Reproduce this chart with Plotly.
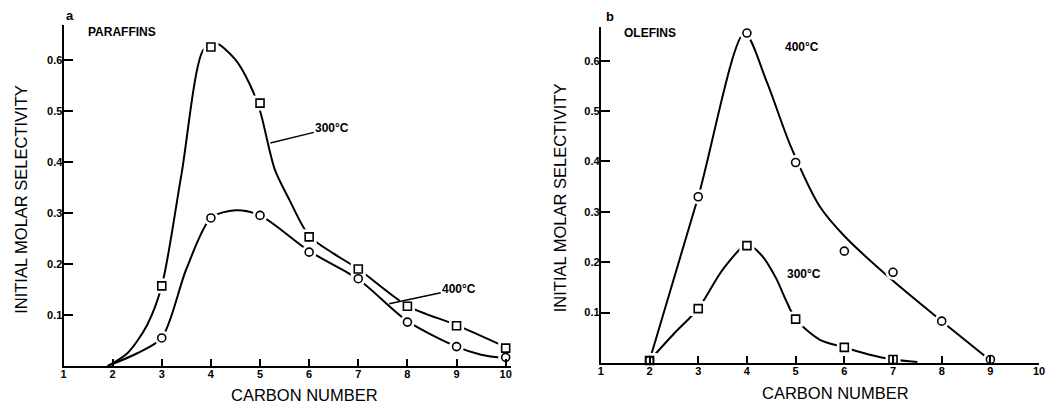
import plotly.graph_objects as go

# ---------------- data ----------------
carbon_par = [3, 4, 5, 6, 7, 8, 9, 10]
par_300 = [0.157, 0.625, 0.515, 0.253, 0.19, 0.117, 0.079, 0.035]
par_400 = [0.055, 0.29, 0.295, 0.223, 0.171, 0.086, 0.038, 0.017]

# hand-drawn smooth curves
par_300_curve_x = [1.9, 2.3, 2.7, 3, 3.4, 3.85, 4.1, 4.5, 4.8, 5, 5.3, 5.6, 6, 6.5, 7, 8, 9, 10]
par_300_curve_y = [0, 0.025, 0.08, 0.157, 0.375, 0.62, 0.632, 0.6, 0.55, 0.5, 0.385, 0.325, 0.255, 0.22, 0.19, 0.118, 0.08, 0.037]
par_400_curve_x = [1.9, 2.5, 3, 3.5, 4, 4.5, 5, 6, 7, 8, 9, 9.5, 10]
par_400_curve_y = [0, 0.025, 0.055, 0.19, 0.29, 0.305, 0.295, 0.225, 0.17, 0.088, 0.038, 0.022, 0.015]

carbon_ole_400 = [2, 3, 4, 5, 6, 7, 8, 9]
ole_400 = [0.005, 0.33, 0.655, 0.398, 0.222, 0.18, 0.083, 0.007]
carbon_ole_300 = [2, 3, 4, 5, 6, 7]
ole_300 = [0.005, 0.108, 0.233, 0.087, 0.031, 0.007]

ole_400_curve_x = [2, 3, 3.95, 4.4, 4.9, 5.5, 6, 7, 8, 9]
ole_400_curve_y = [0.005, 0.33, 0.655, 0.56, 0.43, 0.31, 0.252, 0.163, 0.083, 0.005]
ole_300_curve_x = [2, 2.5, 3, 3.5, 4, 4.3, 4.6, 4.8, 5, 5.5, 6, 6.5, 7, 7.5]
ole_300_curve_y = [0.005, 0.058, 0.108, 0.185, 0.235, 0.214, 0.168, 0.125, 0.087, 0.046, 0.031, 0.017, 0.007, 0.002]

x_ticks = [1, 2, 3, 4, 5, 6, 7, 8, 9, 10]
y_ticks = [0.1, 0.2, 0.3, 0.4, 0.5, 0.6]

FONT = "Liberation Sans Narrow, Arial Narrow, Liberation Sans, Arial, sans-serif"
BFONT = "Liberation Sans, Arial, sans-serif"

fig = go.Figure()


def add_curve(xa, ya, cx, cy):
    fig.add_trace(go.Scatter(x=cx, y=cy, mode="lines", xaxis=xa, yaxis=ya,
                             line=dict(color="black", width=2, shape="spline", smoothing=0.8),
                             hoverinfo="skip", showlegend=False))


def add_halo(xa, ya, mx, my, symbol):
    fig.add_trace(go.Scatter(x=mx, y=my, mode="markers", xaxis=xa, yaxis=ya,
                             marker=dict(symbol=symbol.replace("-open", ""), size=15, color="white",
                                         line=dict(width=0)),
                             cliponaxis=False, hoverinfo="skip", showlegend=False))


def add_black(xa, ya, mx, my, symbol):
    fig.add_trace(go.Scatter(x=mx, y=my, mode="markers", xaxis=xa, yaxis=ya,
                             marker=dict(symbol=symbol, size=8, color="black",
                                         line=dict(width=1.6, color="black")),
                             cliponaxis=False, showlegend=False))


panels = [
    ("x", "y", [(par_300_curve_x, par_300_curve_y, carbon_par, par_300, "square-open"),
                (par_400_curve_x, par_400_curve_y, carbon_par, par_400, "circle-open")]),
    ("x2", "y2", [(ole_400_curve_x, ole_400_curve_y, carbon_ole_400, ole_400, "circle-open"),
                  (ole_300_curve_x, ole_300_curve_y, carbon_ole_300, ole_300, "square-open")]),
]
for xa, ya, series in panels:
    for cx, cy, mx, my, sym in series:
        add_curve(xa, ya, cx, cy)
    for cx, cy, mx, my, sym in series:
        add_halo(xa, ya, mx, my, sym)
    for cx, cy, mx, my, sym in series:
        add_black(xa, ya, mx, my, sym)

axis_common = dict(showline=True, linewidth=2, linecolor="black", mirror=False,
                   showgrid=False, zeroline=False, ticks="inside", tickwidth=2,
                   tickcolor="black", ticklabelstandoff=-3,
                   tickfont=dict(family=BFONT, size=11, color="black", weight="bold"))

fig.update_layout(
    width=1056, height=403,
    margin=dict(l=0, r=0, t=0, b=0),
    paper_bgcolor="white", plot_bgcolor="white",
    showlegend=False,
    xaxis=dict(domain=[0.0578, 0.4848], range=[1, 10.1], tickvals=x_ticks, ticklen=7,
               anchor="y", **axis_common),
    yaxis=dict(domain=[0.0918, 0.938], range=[0, 0.668], tickvals=y_ticks, tickformat=".1f",
               ticklen=9, anchor="x", **axis_common),
    xaxis2=dict(domain=[0.571, 0.9896], range=[1, 10], tickvals=x_ticks, ticklen=7,
                anchor="y2", **axis_common),
    yaxis2=dict(domain=[0.0993, 0.933], range=[0, 0.667], tickvals=y_ticks, tickformat=".1f",
                ticklen=9, anchor="x2", **axis_common),
)

lab = dict(family=BFONT, size=12, color="black", weight="bold")
big = dict(family=FONT, size=16.5, color="black")
ann = [
    dict(x=68 / 1056, y=1 - 15 / 403, xref="paper", yref="paper", text="a", showarrow=False,
         xanchor="center", yanchor="middle",
         font=dict(family=BFONT, size=13, color="black", weight="bold")),
    dict(x=2.19, y=0.655, xref="x", yref="y", text="PARAFFINS", showarrow=False, font=lab),
    dict(x=5.21, y=0.437, xref="x", yref="y", text="300°C", showarrow=True, arrowhead=0,
         arrowwidth=1.5, arrowcolor="black", ax=62, ay=-15, font=lab),
    dict(x=7.63, y=0.122, xref="x", yref="y", text="400°C", showarrow=True, arrowhead=0,
         arrowwidth=1.5, arrowcolor="black", ax=70, ay=-15, font=lab),
    dict(x=612 / 1056, y=1 - 17 / 403, xref="paper", yref="paper", text="b", showarrow=False,
         xanchor="center", yanchor="middle",
         font=dict(family=BFONT, size=13, color="black", weight="bold")),
    dict(x=2.0, y=0.655, xref="x2", yref="y2", text="OLEFINS", showarrow=False, font=lab),
    dict(x=5.13, y=0.627, xref="x2", yref="y2", text="400°C", showarrow=False, font=lab),
    dict(x=5.17, y=0.177, xref="x2", yref="y2", text="300°C", showarrow=False, font=lab),
    # axis titles
    dict(x=18 / 1056, y=1 - 199 / 403, xref="paper", yref="paper", text="INITIAL MOLAR SELECTIVITY",
         textangle=-90, showarrow=False, xanchor="center", yanchor="middle", font=big),
    dict(x=562 / 1056, y=1 - 198 / 403, xref="paper", yref="paper", text="INITIAL MOLAR SELECTIVITY",
         textangle=-90, showarrow=False, xanchor="center", yanchor="middle", font=big),
    dict(x=304 / 1056, y=1 - 395 / 403, xref="paper", yref="paper", text="CARBON NUMBER",
         showarrow=False, xanchor="center", yanchor="middle", font=big),
    dict(x=840 / 1056, y=1 - 393 / 403, xref="paper", yref="paper", text="CARBON NUMBER",
         showarrow=False, xanchor="center", yanchor="middle", font=big),
]
fig.update_layout(annotations=ann)

fig.write_html("out.html", config={"displayModeBar": False},
               post_script="document.body.style.margin='0';document.body.style.overflow='hidden';")
